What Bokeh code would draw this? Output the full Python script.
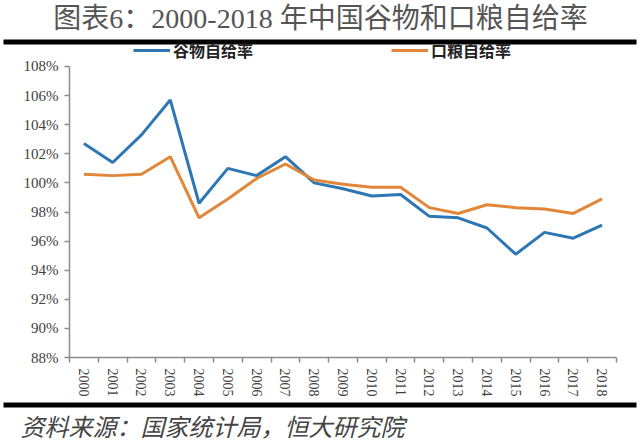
from bokeh.plotting import figure
from bokeh.models import (FixedTicker, Legend, LegendItem, Label, BoxAnnotation,
                          Range1d, CustomJSTickFormatter)
from bokeh.embed import file_html
from bokeh.resources import INLINE

# ---- data ----
years = [2000, 2001, 2002, 2003, 2004, 2005, 2006, 2007, 2008, 2009,
         2010, 2011, 2012, 2013, 2014, 2015, 2016, 2017, 2018]
grain = [102.7, 101.4, 103.3, 105.7, 98.6, 101.0, 100.5, 101.8, 100.0, 99.6,
         99.1, 99.2, 97.7, 97.6, 96.9, 95.1, 96.6, 96.2, 97.1]
ration = [100.6, 100.5, 100.6, 101.8, 97.6, 98.9, 100.3, 101.3, 100.2, 99.9,
          99.7, 99.7, 98.3, 97.9, 98.5, 98.3, 98.2, 97.9, 98.9]
y_ticks = [88, 90, 92, 94, 96, 98, 100, 102, 104, 106, 108]
series_names = ["谷物自给率", "口粮自给率"]
title_text = "图表6：2000-2018 年中国谷物和口粮自给率"
source_text = "资料来源：国家统计局，恒大研究院"

BLUE = "#2e76b4"
ORANGE = "#e2863a"
SERIF = "'Liberation Serif', 'Noto Sans CJK SC'"
AXIS_GRAY = "#8c8c8c"

W, H = 640, 445
# frame covers whole canvas; axes are placed at fixed data locations
p = figure(width=W, height=H, output_backend="svg", toolbar_location=None,
           x_range=Range1d(1997.103, 2019.334),
           y_range=Range1d(81.952, 112.536),
           min_border=0)
p.outline_line_color = None
p.grid.visible = False

xa = p.xaxis[0]
xa.fixed_location = y_ticks[0]
xa.bounds = (years[0] - 0.5, years[-1] + 0.5)
xa.ticker = FixedTicker(ticks=years, minor_ticks=[y - 0.5 for y in years] + [years[-1] + 0.5])
xa.major_tick_out = 0
xa.major_tick_in = 0
xa.minor_tick_out = 5
xa.minor_tick_in = 0
xa.major_label_orientation = "vertical"
xa.major_label_standoff = 6
xa.major_label_text_font = "Liberation Serif"
xa.major_label_text_font_size = "14px"
xa.major_label_text_color = "#404040"
xa.axis_line_color = AXIS_GRAY
xa.axis_line_width = 1.5
xa.minor_tick_line_color = AXIS_GRAY
xa.minor_tick_line_width = 1.5

ya = p.yaxis[0]
ya.fixed_location = years[0] - 0.5
ya.bounds = (y_ticks[0], y_ticks[-1])
ya.ticker = FixedTicker(ticks=y_ticks, minor_ticks=[])
ya.formatter = CustomJSTickFormatter(code="return tick.toFixed(0) + '%';")
ya.major_tick_out = 5
ya.major_tick_in = 0
ya.minor_tick_out = 0
ya.minor_tick_in = 0
ya.major_label_standoff = 6
ya.major_label_text_font = "Liberation Serif"
ya.major_label_text_font_size = "15px"
ya.major_label_text_color = "#404040"
ya.axis_line_color = AXIS_GRAY
ya.axis_line_width = 1.5
ya.major_tick_line_color = AXIS_GRAY
ya.major_tick_line_width = 1.5

r1 = p.line(years, grain, line_color=BLUE, line_width=3)
r2 = p.line(years, ration, line_color=ORANGE, line_width=3)

legend = Legend(items=[LegendItem(label=series_names[0], renderers=[r1]),
                       LegendItem(label=series_names[1], renderers=[r2])],
                orientation="horizontal", location=(133, 383),
                border_line_color=None, background_fill_alpha=0,
                padding=0, margin=0, spacing=138,
                glyph_width=37, glyph_height=16, label_standoff=3,
                label_text_font="Noto Sans CJK SC", label_text_font_style="bold",
                label_text_font_size="16px", label_text_color="#222222")
p.add_layout(legend, "center")

# title, rules and source (screen units from canvas bottom-left)
p.add_layout(Label(x=320, y=427, x_units="screen", y_units="screen", text=title_text,
                   text_align="center", text_baseline="middle",
                   text_font=SERIF, text_font_size="28px", text_color="#555555"))
p.add_layout(BoxAnnotation(left=3, right=636, bottom=401, top=406,
                           left_units="screen", right_units="screen",
                           bottom_units="screen", top_units="screen",
                           fill_color="black", fill_alpha=1, line_color=None))
p.add_layout(BoxAnnotation(left=3, right=636, bottom=38, top=43,
                           left_units="screen", right_units="screen",
                           bottom_units="screen", top_units="screen",
                           fill_color="black", fill_alpha=1, line_color=None))
p.add_layout(Label(x=20, y=20, x_units="screen", y_units="screen", text=source_text,
                   text_align="left", text_baseline="middle",
                   text_font="Noto Sans CJK SC", text_font_style="italic",
                   text_font_size="24px", text_color="#444444"))

open("out.html", "w").write(file_html(p, INLINE))
